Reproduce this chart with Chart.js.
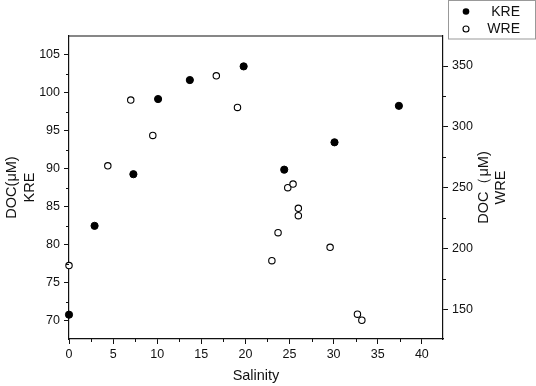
<!DOCTYPE html>
<html>
<head>
<meta charset="utf-8">
<script src="https://cdn.jsdelivr.net/npm/chart.js@4"></script>
<style>
  body { margin: 0; background: #fff; }
</style>
</head>
<body>
<canvas id="scatterChart" width="536" height="386"></canvas>
<script>
const CHART = document.getElementById('scatterChart')
const FONT = "'Liberation Sans', Arial, sans-serif"

// KRE, left axis
const salinityKRE = [0, 2.9, 7.3, 10.1, 13.7, 19.8, 24.4, 30.1, 37.4]
const docKRE = [70.8, 82.5, 89.3, 99.2, 101.7, 103.5, 89.9, 93.5, 98.3]
// WRE, right axis
const salinityWRE = [0, 4.4, 7.0, 9.5, 16.7, 19.1, 23.0, 23.7, 24.8, 25.4, 26.0, 26.0, 29.6, 32.7, 33.2]
const docWRE = [186, 268, 322, 293, 342, 316, 190, 213, 250, 253, 233, 227, 201, 146, 141]

const xTicks = [0, 5, 10, 15, 20, 25, 30, 35, 40]
const leftTicks = [70, 75, 80, 85, 90, 95, 100, 105]
const rightTicks = [150, 200, 250, 300, 350]

const toPoints = (xs, ys) => xs.map((x, i) => ({x: x, y: ys[i]}))
const keepTicks = list => scale => {
    scale.ticks = list.map(v => ({value: v}))
}

// top frame line, minor ticks, axis titles, legend
const extras = {
    id: 'extras',
    afterDraw(chart) {
        const ctx = chart.ctx
        const a = chart.chartArea
        const sx = chart.scales.x, sy = chart.scales.y, sy2 = chart.scales.y2
        ctx.save()
        ctx.strokeStyle = '#111'
        ctx.lineWidth = 1.2
        ctx.beginPath()
        ctx.moveTo(a.left, a.top)
        ctx.lineTo(a.right, a.top)
        ctx.stroke()

        ctx.lineWidth = 1
        ctx.beginPath()
        for (let v = 2.5; v < sx.max; v += 5) {
            const px = Math.round(sx.getPixelForValue(v)) + 0.5
            ctx.moveTo(px, a.bottom); ctx.lineTo(px, a.bottom + 3)
        }
        for (let v = 72.5; v < sy.max; v += 5) {
            const py = Math.round(sy.getPixelForValue(v)) + 0.5
            ctx.moveTo(a.left, py); ctx.lineTo(a.left - 3, py)
        }
        for (let v = 175; v < sy2.max; v += 50) {
            const py = Math.round(sy2.getPixelForValue(v)) + 0.5
            ctx.moveTo(a.right, py); ctx.lineTo(a.right + 3, py)
        }
        ctx.stroke()

        ctx.fillStyle = '#111'
        ctx.font = '14.5px ' + FONT
        ctx.textAlign = 'center'
        ctx.textBaseline = 'middle'
        ctx.fillText('Salinity', (a.left + a.right) / 2, 376)

        const midY = (a.top + a.bottom) / 2
        const vText = (txt, x) => {
            ctx.save()
            ctx.translate(x, midY)
            ctx.rotate(-Math.PI / 2)
            ctx.fillText(txt, 0, 0)
            ctx.restore()
        }
        vText('DOC(μM)', 12)
        vText('KRE', 30)
        vText('DOC（μM)', 484)
        vText('WRE', 501)

        // legend
        ctx.strokeStyle = '#999'
        ctx.lineWidth = 1
        ctx.strokeRect(448.5, 0.5, 87, 38.5)
        ctx.fillStyle = '#000'
        ctx.beginPath()
        ctx.arc(466, 11.5, 3.3, 0, Math.PI * 2)
        ctx.fill()
        ctx.beginPath()
        ctx.arc(466, 29, 3, 0, Math.PI * 2)
        ctx.fillStyle = '#fff'
        ctx.fill()
        ctx.strokeStyle = '#000'
        ctx.lineWidth = 1.1
        ctx.stroke()
        ctx.fillStyle = '#111'
        ctx.font = '14px ' + FONT
        ctx.textAlign = 'right'
        ctx.fillText('KRE', 520, 12)
        ctx.fillText('WRE', 520, 29.5)
        ctx.restore()
    }
}

const tickFont = {family: FONT, size: 12.5}

let scatterChart = new Chart(CHART, {
    type: 'scatter',
    data: {
        datasets: [
            {
                label: 'KRE',
                data: toPoints(salinityKRE, docKRE),
                yAxisID: 'y',
                pointRadius: 3.6,
                pointBackgroundColor: '#000',
                pointBorderColor: '#000',
                pointBorderWidth: 1,
                clip: false
            },
            {
                label: 'WRE',
                data: toPoints(salinityWRE, docWRE),
                yAxisID: 'y2',
                pointRadius: 3.2,
                pointBackgroundColor: '#fff',
                pointBorderColor: '#000',
                pointBorderWidth: 1.1,
                clip: false
            }
        ]
    },
    options: {
        responsive: false,
        animation: false,
        layout: {padding: {top: 36, left: 0, right: 0, bottom: 0}},
        plugins: {
            legend: {display: false},
            tooltip: {enabled: false}
        },
        scales: {
            x: {
                type: 'linear',
                min: 0,
                max: 42.4,
                afterBuildTicks: keepTicks(xTicks),
                afterFit: s => { s.height = 47 },
                border: {color: '#111', width: 1.2},
                grid: {drawOnChartArea: false, tickLength: 5, tickColor: '#111'},
                ticks: {color: '#111', font: tickFont, padding: 3, maxRotation: 0}
            },
            y: {
                position: 'left',
                min: 67.6,
                max: 107.5,
                afterBuildTicks: keepTicks(leftTicks),
                afterFit: s => { s.width = 69 },
                border: {color: '#111', width: 1.2},
                grid: {drawOnChartArea: false, tickLength: 5, tickColor: '#111'},
                ticks: {color: '#111', font: tickFont, padding: 4}
            },
            y2: {
                position: 'right',
                min: 125.6,
                max: 374.7,
                afterBuildTicks: keepTicks(rightTicks),
                afterFit: s => { s.width = 93 },
                border: {color: '#111', width: 1.2},
                grid: {drawOnChartArea: false, tickLength: 5, tickColor: '#111'},
                ticks: {color: '#111', font: tickFont, padding: 4}
            }
        }
    },
    plugins: [extras]
})
</script>
</body>
</html>
